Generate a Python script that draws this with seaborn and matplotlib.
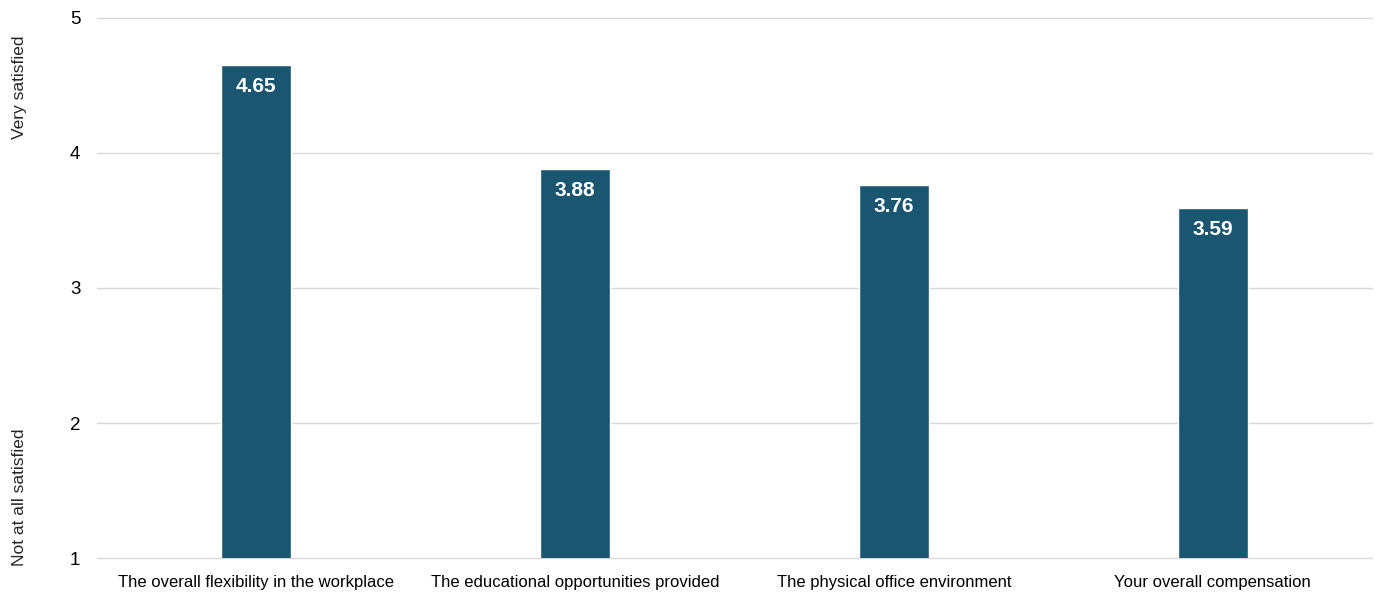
import pandas as pd
import seaborn as sns
import matplotlib.pyplot as plt

# Data
categories = [
    'The overall flexibility in the workplace',
    'The educational opportunities provided',
    'The physical office environment',
    'Your overall compensation',
]
scores = [4.65, 3.88, 3.76, 3.59]
y_ticks = [1, 2, 3, 4, 5]

bar_color = '#1b5670'

sns.set_theme(style='white')
plt.rcParams['font.family'] = ['Liberation Sans Narrow', 'Liberation Sans', 'DejaVu Sans']

df = pd.DataFrame({'item': categories, 'score': scores})

fig = plt.figure(figsize=(13.75, 5.99), dpi=100)
ax = fig.add_axes([0.0705, 0.0684, 0.9275, 0.9016])

ax.set_ylim(1, 5)
ax.set_yticks(y_ticks)
ax.yaxis.grid(True, color='#d9d9d9', linewidth=1)
ax.set_axisbelow(True)
for gl in ax.get_ygridlines():
    gl.set_clip_on(False)

sns.barplot(data=df, x='item', y='score', color=bar_color, width=0.22,
            saturation=1, ax=ax)

# value labels inside the bar tops
for i, v in enumerate(scores):
    ax.text(i, v - 0.155, f'{v:.2f}', ha='center', va='center', color='white',
            fontsize=15, fontweight='bold')

for s in ax.spines.values():
    s.set_visible(False)
ax.tick_params(axis='both', length=0, colors='black')
ax.tick_params(axis='x', pad=12, labelsize=12)
ax.tick_params(axis='y', pad=12, labelsize=13.5)
ax.set_xlabel('')
ax.set_ylabel('')

fig.text(0.014, 0.855, 'Very satisfied', rotation=90, ha='center', va='center', fontsize=12.5)
fig.text(0.014, 0.17, 'Not at all satisfied', rotation=90, ha='center', va='center', fontsize=12.5)

fig.savefig('out.png', dpi=100)
